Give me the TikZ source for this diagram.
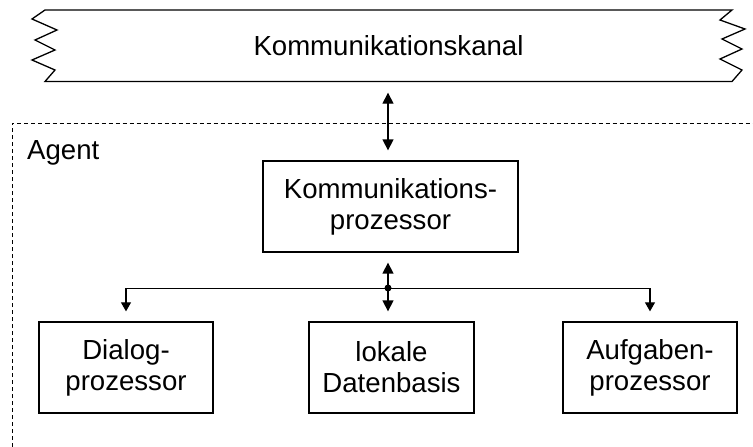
\documentclass[tikz,border=0pt]{standalone}
\usepackage{fontspec}
\setmainfont{Liberation Sans}
\usetikzlibrary{arrows.meta,calc}

\tikzset{
  lbl/.style={font=\fontsize{27.6}{31}\selectfont, align=center, inner sep=0pt},
  procbox/.style={lbl, draw, line width=1.3pt, minimum height=91pt},
  link/.style={line width=1.4pt},
  bothtips/.style={{Triangle[length=11pt,width=11pt]}-{Triangle[length=11pt,width=11pt]}},
  smalltip/.style={-{Triangle[length=9pt,width=10pt]}},
}

\begin{document}
\begin{tikzpicture}[x=1pt, y=-1pt]
  \useasboundingbox (0,0) rectangle (753,447);

  % agent frame, open to the right and bottom
  \draw[line width=0.9pt, dash pattern=on 4pt off 3pt]
    (12,447) -- (12,123.5) -- (753,123.5);
  \node[lbl, anchor=west] (agent) at (27,153) {Agent};

  % communication channel with torn ends
  \draw[line width=1.3pt, line join=miter]
    (45,10) -- (732,10)
    -- (720,20) -- (745,29) -- (722,39) -- (742,49) -- (720,59) -- (742,70) -- (732,81.5)
    -- (45,81.5)
    -- (55,70) -- (32,60) -- (55,50) -- (35,40) -- (57,30) -- (32,19) -- cycle;
  \node[lbl, minimum width=687pt, minimum height=71.5pt] (chan) at (388.5,45.75) {Kommunikationskanal};

  % processors
  \node[procbox, minimum width=255pt] (kp) at (390.5,206.5) {Kommunikations-\\prozessor};
  \node[procbox, minimum width=174pt] (dp) at (126,367.5) {Dialog-\\prozessor};
  \node[procbox, minimum width=165pt] (ldb) at (391.5,367.5) {lokale\\Datenbasis};
  \node[procbox, minimum width=174pt] (ap) at (650,367.5) {Aufgaben-\\prozessor};

  % junction on the distribution bus
  \coordinate (j) at (388,288);

  \draw[link, bothtips, shorten <=11pt, shorten >=10pt]
    (chan.south -| j) -- (kp.north -| j);
  \draw[link, bothtips, shorten <=10pt, shorten >=10pt]
    (kp.south -| j) -- (ldb.north -| j);
  \fill (j) circle (3.5pt);

  \draw[line width=1pt] (dp.north |- j) -- (ap.north |- j);
  \draw[line width=1.1pt, smalltip, shorten >=10pt] (dp.north |- j) -- (dp.north);
  \draw[line width=1.1pt, smalltip, shorten >=10pt] (ap.north |- j) -- (ap.north);
\end{tikzpicture}
\end{document}
